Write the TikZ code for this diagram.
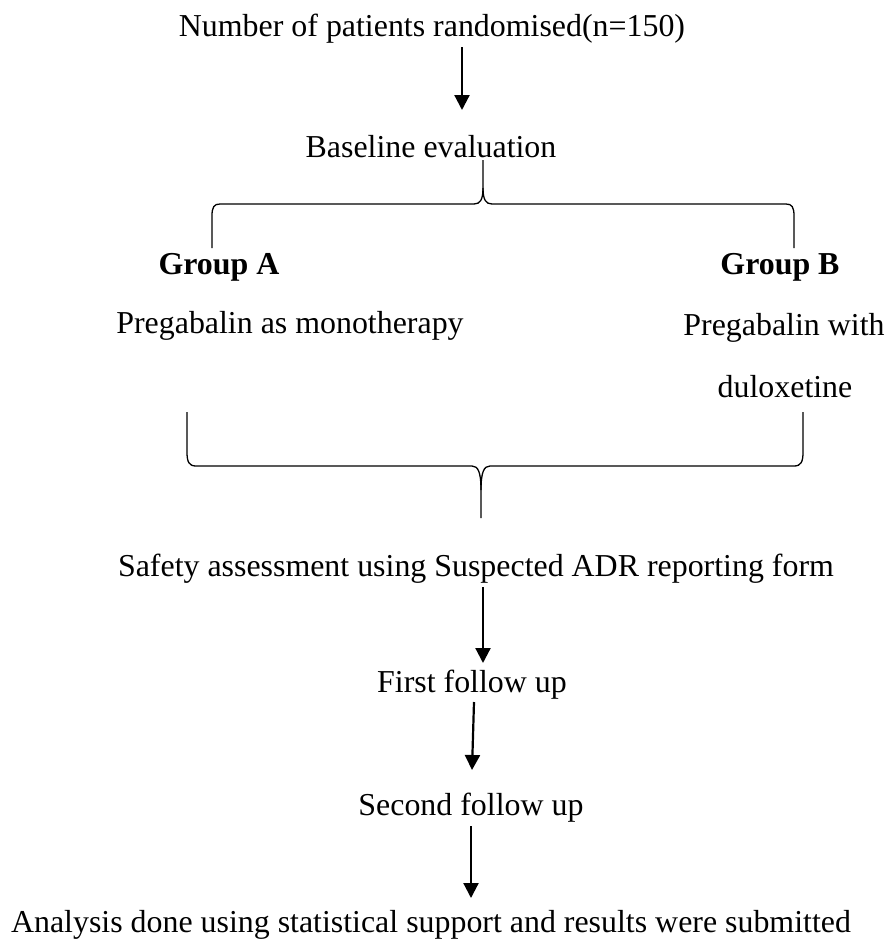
\documentclass[tikz,border=0pt]{standalone}
\usepackage{fontspec}
\setmainfont{Liberation Serif}
\usetikzlibrary{arrows.meta}
\begin{document}
\begin{tikzpicture}[x=1pt,y=-1pt,
  txt/.style={inner sep=0pt,font=\fontsize{31.9}{38}\selectfont},
  btxt/.style={txt,font=\fontsize{31.9}{38}\selectfont\bfseries},
  arr/.style={line width=2.2pt,-{Triangle[length=15pt,width=15pt]}},
  brace/.style={line width=1.3pt}]
\useasboundingbox (0,0) rectangle (890,943);
\node[txt] (title) at (432,29) {Number of patients randomised(n=150)};
\node[txt] (base) at (431,147) {Baseline evaluation};
\node[btxt] (ga) at (219,267) {Group A};
\node[btxt] (gb) at (780,267) {Group B};
\node[txt] (pa) at (290,326) {Pregabalin as monotherapy};
\node[txt] (pb1) at (784,328) {Pregabalin with};
\node[txt] (pb2) at (785,387) {duloxetine};
\node[txt] (safety) at (476,569) {Safety assessment using Suspected ADR reporting form};
\node[txt] (first) at (472,685) {First follow up};
\node[txt] (second) at (471,808) {Second follow up};
\node[txt] (anal) at (431,925) {Analysis done using statistical support and results were submitted};
% arrow end points
\coordinate (a1s) at (462,47);  \coordinate (a1e) at (462,110);
\coordinate (a2s) at (483,587); \coordinate (a2e) at (483,663);
\coordinate (a3s) at (474,702); \coordinate (a3e) at (472,770);
\coordinate (a4s) at (471,826); \coordinate (a4e) at (471,898);
\draw[arr] (a1s) -- (a1e);
\draw[arr] (a2s) -- (a2e);
\draw[arr] (a3s) -- (a3e);
\draw[arr] (a4s) -- (a4e);
% brace 1
\coordinate (b1l) at (212,248); \coordinate (b1tip) at (483,160); \coordinate (b1r) at (794,248);
\draw[brace] (b1l) -- (212,216) .. controls (212,207) and (214,204) .. (220,204)
  -- (474,204) .. controls (480,204) and (483,200) .. (483,188) -- (b1tip);
\draw[brace] (483,188) .. controls (483,200) and (486,204) .. (492,204)
  -- (786,204) .. controls (792,204) and (794,207) .. (794,216) -- (b1r);
% brace 2
\coordinate (b2l) at (187,412); \coordinate (b2tip) at (481,518); \coordinate (b2r) at (803,412);
\draw[brace] (b2l) -- (187,452) .. controls (187,462) and (189,466) .. (196,466)
  -- (472,466) .. controls (478,466) and (481,472) .. (481,490) -- (b2tip);
\draw[brace] (481,490) .. controls (481,472) and (484,466) .. (490,466)
  -- (794,466) .. controls (801,466) and (803,462) .. (803,452) -- (b2r);
\end{tikzpicture}
\end{document}
